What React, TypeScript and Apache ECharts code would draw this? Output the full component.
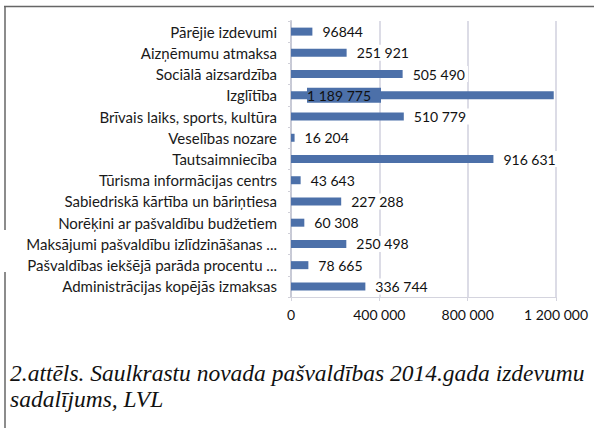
import React, { useEffect, useRef } from "react";
import * as echarts from "echarts";

const categories = [
  "Pārējie izdevumi",
  "Aizņēmumu atmaksa",
  "Sociālā aizsardzība",
  "Izglītība",
  "Brīvais laiks, sports, kultūra",
  "Veselības nozare",
  "Tautsaimniecība",
  "Tūrisma informācijas centrs",
  "Sabiedriskā kārtība un bāriņtiesa",
  "Norēķini ar pašvaldību budžetiem",
  "Maksājumi pašvaldību izlīdzināšanas ...",
  "Pašvaldības iekšējā parāda procentu ...",
  "Administrācijas kopējās izmaksas",
];

const values = [
  96844, 251921, 505490, 1189775, 510779, 16204, 916631, 43643, 227288, 60308,
  250498, 78665, 336744,
];

const valueLabels = [
  "96844",
  "251 921",
  "505 490",
  "1 189 775",
  "510 779",
  "16 204",
  "916 631",
  "43 643",
  "227 288",
  "60 308",
  "250 498",
  "78 665",
  "336 744",
];

const xTicks = [0, 400000, 800000, 1200000];

const captionLines = [
  "2.attēls. Saulkrastu novada pašvaldības 2014.gada izdevumu",
  "sadalījums, LVL",
];

const BAR = "#4c70a9";
const FONT = "Lato";

const fmt = (v: number) => String(v).replace(/\B(?=(\d{3})+(?!\d))/g, " ");

export default function App() {
  const ref = useRef<HTMLDivElement>(null);
  useEffect(() => {
    if (!ref.current) return;
    const chart = echarts.init(ref.current, null, { renderer: "svg" });
    const data = values.map((v, i) => {
      const item: any = { value: v, labelText: valueLabels[i] };
      if (categories[i] === "Izglītība") {
        item.label = {
          position: "insideLeft",
          distance: 0,
          offset: [16, 0],
          backgroundColor: BAR,
          padding: [1, 10, 0, 0],
          color: "#111",
        };
      }
      return item;
    });
    chart.setOption({
      animation: false,
      backgroundColor: "#ffffff",
      grid: { left: 291, top: 21, width: 265, height: 276, containLabel: false },
      xAxis: {
        type: "value",
        min: xTicks[0],
        max: xTicks[xTicks.length - 1],
        interval: xTicks[1] - xTicks[0],
        axisLine: { show: true, lineStyle: { color: "#d4d4de", width: 1 } },
        axisTick: { show: true, length: 4, lineStyle: { color: "#d4d4de" } },
        splitLine: { show: true, lineStyle: { color: "#dcdce6", width: 2 } },
        axisLabel: {
          margin: 10,
          fontFamily: FONT,
          fontSize: 14,
          color: "#111",
          formatter: (v: number) => fmt(v),
        },
      },
      yAxis: {
        type: "category",
        inverse: true,
        data: categories,
        axisLine: { show: true, lineStyle: { color: "#c8cad6", width: 2 } },
        axisTick: { show: true, length: 3, lineStyle: { color: "#d0d0d8" } },
        axisLabel: {
          margin: 14,
          fontFamily: FONT,
          fontSize: 15,
          color: "#1a1a1a",
        },
      },
      series: [
        {
          type: "bar",
          data,
          barWidth: 8,
          itemStyle: { color: BAR },
          label: {
            show: true,
            position: "right",
            distance: 7,
            fontFamily: FONT,
            fontSize: 14,
            color: "#111",
            backgroundColor: "#ffffff",
            padding: [1, 3],
            formatter: (p: any) => p.data.labelText,
          },
        },
      ],
      graphic: [
        {
          type: "line",
          shape: { x1: 4, y1: 6.5, x2: 594, y2: 6.5 },
          style: { stroke: "#666", lineWidth: 1.5 },
        },
        {
          type: "line",
          shape: { x1: 5, y1: 6, x2: 5, y2: 230 },
          style: { stroke: "#666", lineWidth: 1.5 },
        },
        {
          type: "line",
          shape: { x1: 5, y1: 272, x2: 5, y2: 428 },
          style: { stroke: "#666", lineWidth: 1.5 },
        },
        {
          type: "text",
          left: 10,
          top: 360,
          style: {
            text: captionLines.join("\n"),
            fontFamily: "Liberation Serif",
            fontStyle: "italic",
            fontSize: 23.5,
            lineHeight: 26,
            fill: "#111",
          },
        },
      ],
    });
    return () => chart.dispose();
  }, []);
  return (
    <div
      ref={ref}
      style={{ position: "fixed", left: 0, top: 0, width: 594, height: 428 }}
    />
  );
}
